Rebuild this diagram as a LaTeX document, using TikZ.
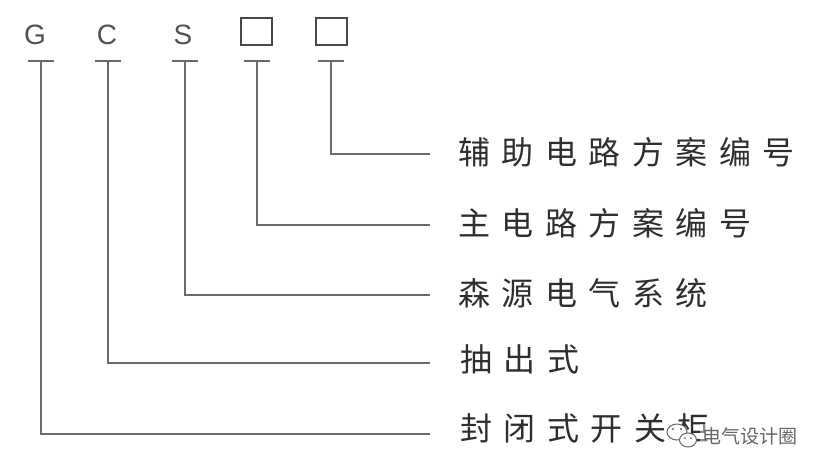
\documentclass[tikz,border=0pt]{standalone}
\usepackage{fontspec}
\setmainfont{Liberation Sans}
\newfontfamily\cjk[LetterSpace=36]{Noto Sans CJK SC}
\newfontfamily\cjkw{Noto Sans CJK SC}
\begin{document}
\begin{tikzpicture}[x=1pt,y=-1pt,
  conn/.style={draw=black!58,line width=2.4pt},
  tbar/.style={draw=black!58,line width=2.4pt},
  letter/.style={font=\fontsize{28}{28}\selectfont,text=black!68,inner sep=0pt},
  blank/.style={draw=black!72,line width=2pt,minimum width=31pt,minimum height=27pt,inner sep=0pt},
  lab/.style={font=\cjk\fontsize{32}{32}\selectfont,text=black!82,anchor=west,inner sep=0pt},
  wm/.style={font=\cjkw\fontsize{19}{19}\selectfont,text=black!60,anchor=west,inner sep=0pt}]
\useasboundingbox (0,0) rectangle (828,472);
% code letters
\node[letter] (g) at (35,35) {G};
\node[letter] (c) at (107,35) {C};
\node[letter] (s) at (183,35) {S};
\node[blank] (b1) at (256,31.5) {};
\node[blank] (b2) at (331,31.5) {};
% tops of leaders
\coordinate (tg) at (41,61);
\coordinate (tc) at (108,61);
\coordinate (ts) at (185,61);
\coordinate (tb1) at (257,61);
\coordinate (tb2) at (331,61);
% line ends
\coordinate (e1) at (430,154);
\coordinate (e2) at (430,225);
\coordinate (e3) at (430,295);
\coordinate (e4) at (430,363);
\coordinate (e5) at (430,434);
% labels
\node[lab] (l1) at (458,152) {辅助电路方案编号};
\node[lab] (l2) at (458,223) {主电路方案编号};
\node[lab] (l3) at (458,293) {森源电气系统};
\node[lab] (l4) at (460,359) {抽出式};
\node[lab] (l5) at (460,428) {封闭式开关柜};
% T bars
\foreach \t in {tg,tc,ts,tb1,tb2}
  \draw[tbar] ([xshift=-13pt]\t) -- ([xshift=13pt]\t);
% leaders
\draw[conn] (tb2) |- (e1);
\draw[conn] (tb1) |- (e2);
\draw[conn] (ts) |- (e3);
\draw[conn] (tc) |- (e4);
\draw[conn] (tg) |- (e5);
% watermark
\fill[white,opacity=0.45] (700,424) rectangle (805,448);
\draw[black!60,fill=white,line width=1pt] (677,432) ellipse [x radius=10pt,y radius=8pt];
\draw[black!60,fill=white,line width=1pt] (688,440) ellipse [x radius=8.5pt,y radius=7pt];
\fill[black!60] (673,429) circle (1.2pt) (681,429) circle (1.2pt) (685,438) circle (1pt) (691,438) circle (1pt);
\node[wm] (wmt) at (702,436) {电气设计圈};
\end{tikzpicture}
\end{document}
